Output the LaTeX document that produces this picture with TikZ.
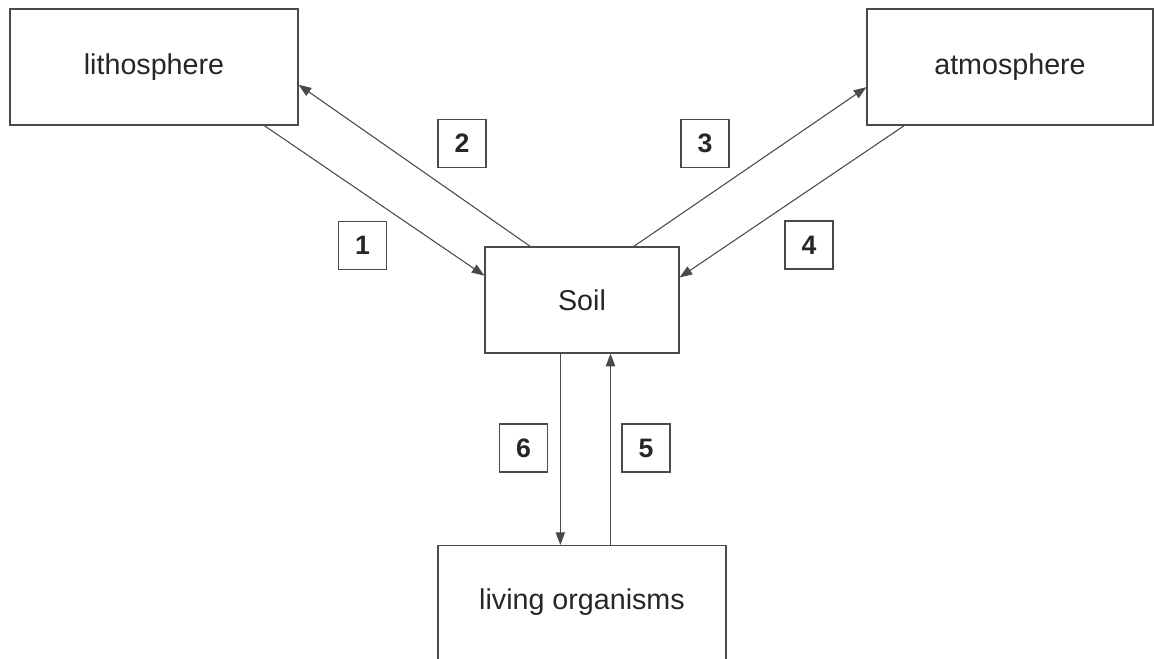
\documentclass[tikz,border=0pt]{standalone}
\usepackage{fontspec}
\setmainfont{Liberation Sans}
\usetikzlibrary{arrows.meta}
\definecolor{linegray}{HTML}{4A4A4A}
\definecolor{textgray}{HTML}{262626}
\tikzset{
  sphere/.style={draw=linegray,line width=0.9pt,rectangle,inner sep=0pt,
    text=textgray,font=\fontsize{21.5}{26}\selectfont},
  numbox/.style={draw=linegray,line width=0.9pt,rectangle,inner sep=0pt,
    minimum width=36pt,minimum height=36pt,text=textgray,
    font=\fontsize{20}{24}\selectfont\bfseries},
  flow/.style={draw=linegray,line width=0.8pt,-{Triangle[length=9.5pt,width=7pt]}}
}
\begin{document}
\begin{tikzpicture}[x=0.75pt,y=-0.75pt]
      \useasboundingbox (0,0) rectangle (1154,659);
      \draw
        (154,67) node[sphere,minimum width=216pt,minimum height=87pt] (litho){lithosphere}
        (1010,67) node[sphere,minimum width=214.5pt,minimum height=87pt] (atmo){atmosphere}
        (582,300) node[sphere,minimum width=145.5pt,minimum height=79.5pt] (soil){Soil}
        (582,545) node[sphere,anchor=north,minimum width=216pt,minimum height=92pt,text depth=11pt] (living){living organisms};
      \draw
        (362.5,245.5) node[numbox] (n1){1}
        (462,143.5) node[numbox] (n2){2}
        (705,143.5) node[numbox] (n3){3}
        (809,245) node[numbox] (n4){4}
        (646,448) node[numbox] (n5){5}
        (523.5,448) node[numbox] (n6){6};
      \begin{scope}[flow]
        \draw (litho.-28.7) -- (soil.166.7);
        \draw (soil.134.5) -- (litho.-7.1);
        \draw (soil.46.1) -- (atmo.-172.4);
        \draw (atmo.-151.5) -- (soil.13.3);
        \draw (soil.-62.2 |- living.north) -- (soil.-62.2);
        \draw (soil.-112.5) -- (soil.-112.5 |- living.north);
      \end{scope}
    \end{tikzpicture}
\end{document}
